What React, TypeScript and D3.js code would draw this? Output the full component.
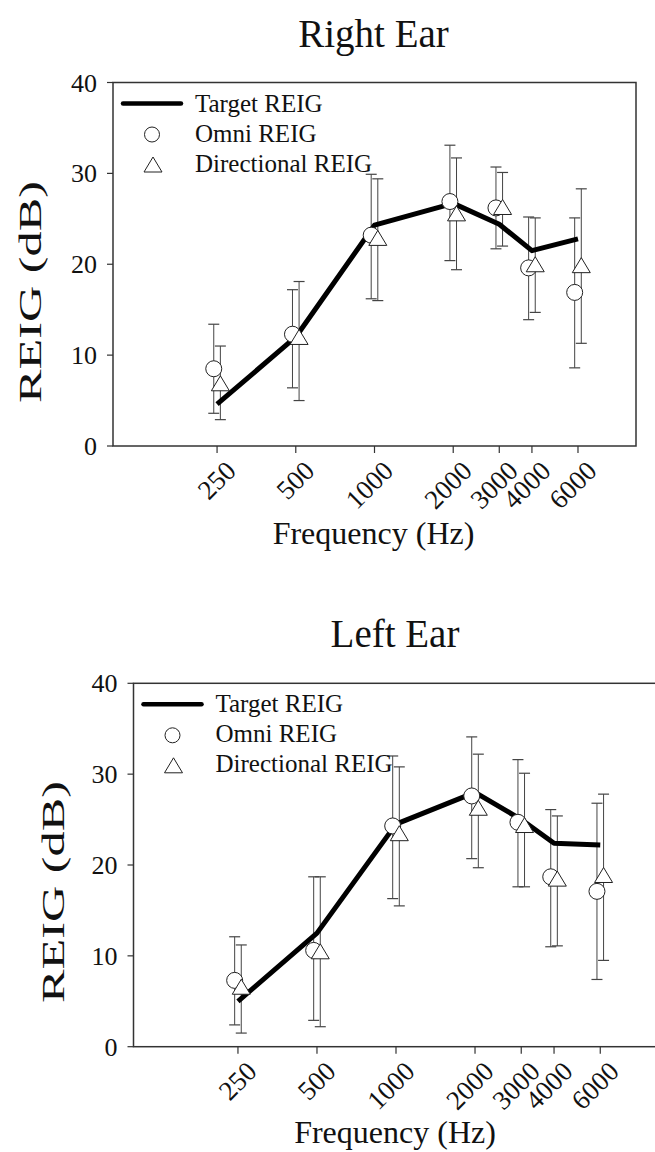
import { useRef, useEffect } from 'react';
import * as d3 from 'd3';

// frequencies (Hz) and tick labels
const freqs = [250, 500, 1000, 2000, 3000, 4000, 6000];
const freqLabels = ['250', '500', '1000', '2000', '3000', '4000', '6000'];
const yTicks = [0, 10, 20, 30, 40];

// Right ear
const rightTarget = [4.6, 12.0, 24.3, 26.7, 24.4, 21.5, 22.8];
const rightOmni = [8.5, 12.3, 23.2, 26.9, 26.2, 19.6, 16.9];
const rightOmniHi = [13.4, 17.2, 29.9, 33.1, 30.7, 25.2, 25.1];
const rightOmniLo = [3.6, 6.4, 16.2, 20.4, 21.7, 13.9, 8.6];
const rightDir = [6.9, 12.0, 22.9, 25.6, 26.3, 20.0, 19.9];
const rightDirHi = [11.0, 18.1, 29.4, 31.7, 30.1, 25.1, 28.3];
const rightDirLo = [2.9, 5.0, 16.0, 19.4, 22.0, 14.7, 11.3];

// Left ear
const leftTarget = [5.0, 12.5, 24.5, 28.0, 25.0, 22.4, 22.2];
const leftOmni = [7.3, 10.6, 24.3, 27.6, 24.7, 18.7, 17.1];
const leftOmniHi = [12.1, 18.7, 32.0, 34.1, 31.6, 26.1, 26.8];
const leftOmniLo = [2.4, 2.9, 16.3, 20.7, 17.6, 11.0, 7.4];
const leftDir = [6.6, 10.5, 23.5, 26.3, 24.4, 18.5, 18.9];
const leftDirHi = [11.2, 18.7, 30.8, 32.2, 30.1, 25.4, 27.8];
const leftDirLo = [1.5, 2.2, 15.5, 19.7, 17.6, 11.1, 9.5];

const legendLabels = ['Target REIG', 'Omni REIG', 'Directional REIG'];

const FONT = '"Liberation Serif", "Times New Roman", "DejaVu Serif", serif';

const panels = [
  {
    title: 'Right Ear',
    target: rightTarget,
    omni: rightOmni, omniHi: rightOmniHi, omniLo: rightOmniLo,
    dir: rightDir, dirHi: rightDirHi, dirLo: rightDirLo,
    left: 113, right: 636, top: 82.5, bottom: 446,
    titleY: 47, yLabelX: 30, yLabelY: 292, xLabelY: 544,
  },
  {
    title: 'Left Ear',
    target: leftTarget,
    omni: leftOmni, omniHi: leftOmniHi, omniLo: leftOmniLo,
    dir: leftDir, dirHi: leftDirHi, dirLo: leftDirLo,
    left: 133.5, right: 658.5, top: 683.3, bottom: 1046.7,
    titleY: 647, yLabelX: 53, yLabelY: 892, xLabelY: 1143,
  },
];

const trianglePath = (cx, cy, w, h) =>
  `M${cx},${cy - h / 2}L${cx - w / 2},${cy + h / 2}L${cx + w / 2},${cy + h / 2}Z`;

function drawPanel(svg, p) {
  const g = svg.append('g').attr('font-family', FONT).attr('fill', '#111');

  const x = d3.scaleLog().domain([100, 10000]).range([p.left, p.right]);
  const y = d3.scaleLinear().domain([0, 40]).range([p.bottom, p.top]);
  const off = 3.3;

  // title
  g.append('text')
    .attr('x', (p.left + p.right) / 2 - 1)
    .attr('y', p.titleY)
    .attr('text-anchor', 'middle')
    .attr('font-size', 39)
    .text(p.title);

  // frame
  g.append('rect')
    .attr('x', p.left).attr('y', p.top)
    .attr('width', p.right - p.left).attr('height', p.bottom - p.top)
    .attr('fill', 'none').attr('stroke', '#333').attr('stroke-width', 1.5);

  // y axis ticks
  yTicks.forEach(t => {
    g.append('line')
      .attr('x1', p.left - 6).attr('x2', p.left)
      .attr('y1', y(t)).attr('y2', y(t))
      .attr('stroke', '#333').attr('stroke-width', 1.2);
    g.append('text')
      .attr('x', p.left - 16).attr('y', y(t)).attr('dy', '0.35em')
      .attr('text-anchor', 'end').attr('font-size', 26)
      .text(t);
  });

  // x axis ticks
  freqs.forEach((f, i) => {
    g.append('line')
      .attr('x1', x(f)).attr('x2', x(f))
      .attr('y1', p.bottom).attr('y2', p.bottom + 7)
      .attr('stroke', '#333').attr('stroke-width', 1.2);
    g.append('text')
      .attr('transform', `translate(${x(f) + 7},${p.bottom + 13}) rotate(-45)`)
      .attr('text-anchor', 'end').attr('dy', '0.7em')
      .attr('font-size', 27)
      .text(freqLabels[i]);
  });

  // axis labels
  g.append('text')
    .attr('x', (p.left + p.right) / 2 - 1)
    .attr('y', p.xLabelY)
    .attr('text-anchor', 'middle').attr('font-size', 32)
    .text('Frequency (Hz)');

  g.append('text')
    .attr('transform', `translate(${p.yLabelX + 11},${p.yLabelY}) rotate(-90)`)
    .attr('text-anchor', 'middle').attr('font-size', 31)
    .attr('textLength', 222).attr('lengthAdjust', 'spacingAndGlyphs')
    .text('REIG (dB)');

  // error bars
  const bars = (hi, lo, dx) => {
    freqs.forEach((f, i) => {
      const cx = x(f) + dx;
      g.append('line')
        .attr('x1', cx).attr('x2', cx)
        .attr('y1', y(hi[i])).attr('y2', y(lo[i]))
        .attr('stroke', '#444').attr('stroke-width', 1);
      [hi[i], lo[i]].forEach(v => {
        g.append('line')
          .attr('x1', cx - 5.5).attr('x2', cx + 5.5)
          .attr('y1', y(v)).attr('y2', y(v))
          .attr('stroke', '#444').attr('stroke-width', 1.2);
      });
    });
  };
  bars(p.omniHi, p.omniLo, -off);
  bars(p.dirHi, p.dirLo, off);

  // target line
  const line = d3.line().x((d, i) => x(freqs[i])).y(d => y(d));
  g.append('path')
    .attr('d', line(p.target))
    .attr('fill', 'none').attr('stroke', '#000')
    .attr('stroke-width', 5).attr('stroke-linejoin', 'round');

  // markers
  g.selectAll('circle.omni')
    .data(p.omni)
    .join('circle')
    .attr('class', 'omni')
    .attr('cx', (d, i) => x(freqs[i]) - off)
    .attr('cy', d => y(d))
    .attr('r', 8)
    .attr('fill', '#fff').attr('stroke', '#222').attr('stroke-width', 1);

  g.selectAll('path.dir')
    .data(p.dir)
    .join('path')
    .attr('class', 'dir')
    .attr('d', (d, i) => trianglePath(x(freqs[i]) + off, y(d), 18, 15))
    .attr('fill', '#fff').attr('stroke', '#222').attr('stroke-width', 1);

  // legend
  const lx = p.left + 10;
  const ly = p.top + 21;
  g.append('line')
    .attr('x1', lx).attr('x2', lx + 58)
    .attr('y1', ly).attr('y2', ly)
    .attr('stroke', '#000').attr('stroke-width', 4.5).attr('stroke-linecap', 'round');
  g.append('circle')
    .attr('cx', lx + 29).attr('cy', ly + 31).attr('r', 7.5)
    .attr('fill', '#fff').attr('stroke', '#222');
  g.append('path')
    .attr('d', trianglePath(lx + 30, ly + 61, 18, 15))
    .attr('fill', '#fff').attr('stroke', '#222');
  legendLabels.forEach((lab, i) => {
    g.append('text')
      .attr('x', lx + 72).attr('y', ly + 8 + i * 30)
      .attr('font-size', 25)
      .text(lab);
  });
}

const App = () => {
  const ref = useRef(null);

  useEffect(() => {
    const svg = d3.select(ref.current);
    svg.selectAll('*').remove();
    svg.append('rect').attr('width', 655).attr('height', 1152).attr('fill', '#fff');
    panels.forEach(p => drawPanel(svg, p));
  }, []);

  return (
    <svg
      ref={ref}
      width={655}
      height={1152}
      style={{ position: 'absolute', left: 0, top: 0 }}
    />
  );
};

export default App;
